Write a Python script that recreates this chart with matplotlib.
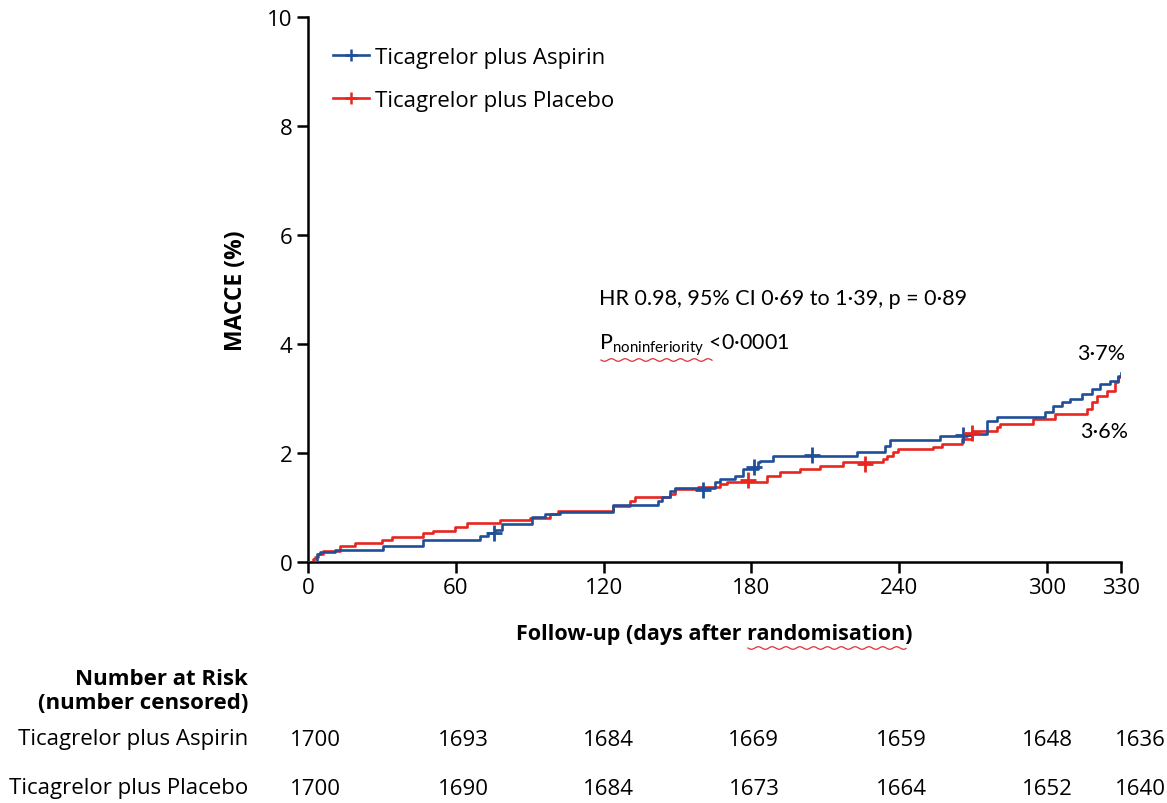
import numpy as np
import matplotlib
matplotlib.use("Agg")
import matplotlib.pyplot as plt

plt.rcParams['font.family'] = ['Open Sans', 'DejaVu Sans']
plt.rcParams['mathtext.fontset'] = 'custom'
plt.rcParams['mathtext.rm'] = 'Lato'
plt.rcParams['mathtext.it'] = 'Lato'

# ---- data ----
asp_days = [0, 3.7, 4.9, 11.0, 30.4, 46.7, 69.8, 73.1, 75.9, 78.7, 90.9, 96.2, 102.3, 123.8,
            142.1, 143.7, 146.9, 149.0, 165.2, 167.2, 173.3, 176.6, 182.7, 183.5, 188.7,
            222.8, 234.2, 236.2, 256.5, 267.5, 275.6, 279.7, 299.2, 302.4, 306.1, 309.3,
            314.2, 318.2, 321.5, 325.5, 328.8, 330]
asp_pct = [0, 0.15, 0.18, 0.22, 0.29, 0.41, 0.48, 0.53, 0.59, 0.70, 0.82, 0.88, 0.91, 1.05,
           1.12, 1.19, 1.30, 1.36, 1.47, 1.52, 1.58, 1.71, 1.83, 1.85, 1.94,
           2.02, 2.13, 2.24, 2.31, 2.35, 2.59, 2.66, 2.75, 2.86, 2.93, 2.99,
           3.08, 3.17, 3.26, 3.32, 3.41, 3.47]
asp_cens_days = [75.5, 160.5, 181.0, 204.5, 266.0]
asp_cens_pct = [0.53, 1.33, 1.74, 1.96, 2.33]

plc_days = [0, 2.0, 2.8, 4.1, 6.1, 13.0, 19.1, 30.0, 34.1, 46.7, 50.7, 59.7, 64.5, 77.9,
            90.1, 98.2, 101.5, 123.8, 130.7, 132.7, 146.9, 149.0, 158.3, 167.2, 170.1,
            186.3, 191.6, 199.7, 207.8, 217.2, 233.4, 235.0, 237.5, 239.5, 253.7, 257.3,
            265.5, 269.5, 279.7, 280.9, 294.3, 303.2, 316.2, 318.2, 320.3, 324.3, 327.6,
            328.8, 330]
plc_pct = [0, 0.05, 0.09, 0.15, 0.20, 0.29, 0.35, 0.40, 0.46, 0.53, 0.57, 0.64, 0.72, 0.77,
           0.81, 0.88, 0.94, 1.03, 1.12, 1.19, 1.25, 1.34, 1.38, 1.43, 1.47,
           1.58, 1.65, 1.71, 1.76, 1.83, 1.89, 1.95, 2.01, 2.07, 2.11, 2.17,
           2.26, 2.40, 2.48, 2.53, 2.62, 2.72, 2.81, 2.93, 3.05, 3.14, 3.30,
           3.39, 3.40]
plc_cens_days = [178.5, 226.0, 269.5]
plc_cens_pct = [1.50, 1.80, 2.36]

x_ticks = [0, 60, 120, 180, 240, 300, 330]
y_ticks = [0, 2, 4, 6, 8, 10]

risk_cols = [3, 63, 122, 181, 241, 300, 338]
risk_asp = [1700, 1693, 1684, 1669, 1659, 1648, 1636]
risk_plc = [1700, 1690, 1684, 1673, 1664, 1652, 1640]

label_asp = "Ticagrelor plus Aspirin"
label_plc = "Ticagrelor plus Placebo"

BLUE = "#1f4f98"
RED = "#e8261f"
FS = 16

W, H = 1167, 804
fig = plt.figure(figsize=(W / 100, H / 100), dpi=100)
ax = fig.add_axes([308 / W, 1 - 563 / H, 813 / W, 545 / H])

ax.step(asp_days, asp_pct, where='post', color=BLUE, lw=1.9, zorder=3)
ax.step(plc_days, plc_pct, where='post', color=RED, lw=1.9, zorder=2)
ax.plot(asp_cens_days, asp_cens_pct, ls='none', marker='+', ms=11, mew=2, color=BLUE, zorder=4)
ax.plot(plc_cens_days, plc_cens_pct, ls='none', marker='+', ms=11, mew=2, color=RED, zorder=4)

# legend handles
h1, = ax.plot([], [], color=BLUE, lw=1.9, marker='+', ms=9, mew=1.8)
h2, = ax.plot([], [], color=RED, lw=1.9, marker='+', ms=9, mew=1.8)
ax.legend([h1, h2], [label_asp, label_plc], loc='upper left', frameon=False,
          fontsize=FS, bbox_to_anchor=(0.020, 0.962), handlelength=1.6,
          handletextpad=0.3, labelspacing=1.0, borderaxespad=0)

ax.set_xlim(0, 330)
ax.set_ylim(0, 10)
ax.set_xticks(x_ticks)
ax.set_yticks(y_ticks)
ax.tick_params(axis='both', direction='out', length=8, width=1.8, labelsize=FS, pad=3)
for s in ['top', 'right']:
    ax.spines[s].set_visible(False)
for s in ['left', 'bottom']:
    ax.spines[s].set_linewidth(1.8)

ax.set_ylabel("MACCE (%)", fontsize=16.5, fontweight='bold', labelpad=14)
ax.set_xlabel("Follow-up (days after randomisation)", fontsize=15.5, fontweight='bold', labelpad=18)

ax.text(118, 4.85, "HR 0.98, 95% CI 0·69 to 1·39, p = 0·89", fontsize=15.5,
        va='center', ha='left', family='Lato')
ax.text(118, 4.0, r"P$_{\mathrm{noninferiority}}$ <0·0001", fontsize=15.5,
        va='center', ha='left', family='Lato')
ax.text(322, 3.83, "3·7%", fontsize=15.5, ha='center', va='center', family='Lato')
ax.text(323, 2.40, "3·6%", fontsize=15.5, ha='center', va='center', family='Lato')

# spell-check squiggles (as in the reference image)
def squiggle(x0, x1, y):
    xs = np.linspace(x0, x1, 120)
    ys = y + 1.3 * np.sin((xs - x0) / 2.2)
    fig.add_artist(plt.Line2D(xs / W, 1 - ys / H, color='#e23030', lw=0.9))

squiggle(601, 712, 361)
squiggle(748, 906, 649)

# number at risk table
fig.text(248 / W, 1 - 680 / H, "Number at Risk", fontsize=FS, fontweight='bold', ha='right', va='center')
fig.text(248 / W, 1 - 704 / H, "(number censored)", fontsize=FS, fontweight='bold', ha='right', va='center')
fig.text(248 / W, 1 - 740 / H, label_asp, fontsize=FS, ha='right', va='center')
fig.text(248 / W, 1 - 789 / H, label_plc, fontsize=FS, ha='right', va='center')
for xc, a, p in zip(risk_cols, risk_asp, risk_plc):
    xf = fig.transFigure.inverted().transform(ax.transData.transform((xc, 0)))[0]
    fig.text(xf, 1 - 741 / H, str(a), fontsize=FS, ha='center', va='center')
    fig.text(xf, 1 - 790 / H, str(p), fontsize=FS, ha='center', va='center')

fig.savefig("out.png", dpi=100)
